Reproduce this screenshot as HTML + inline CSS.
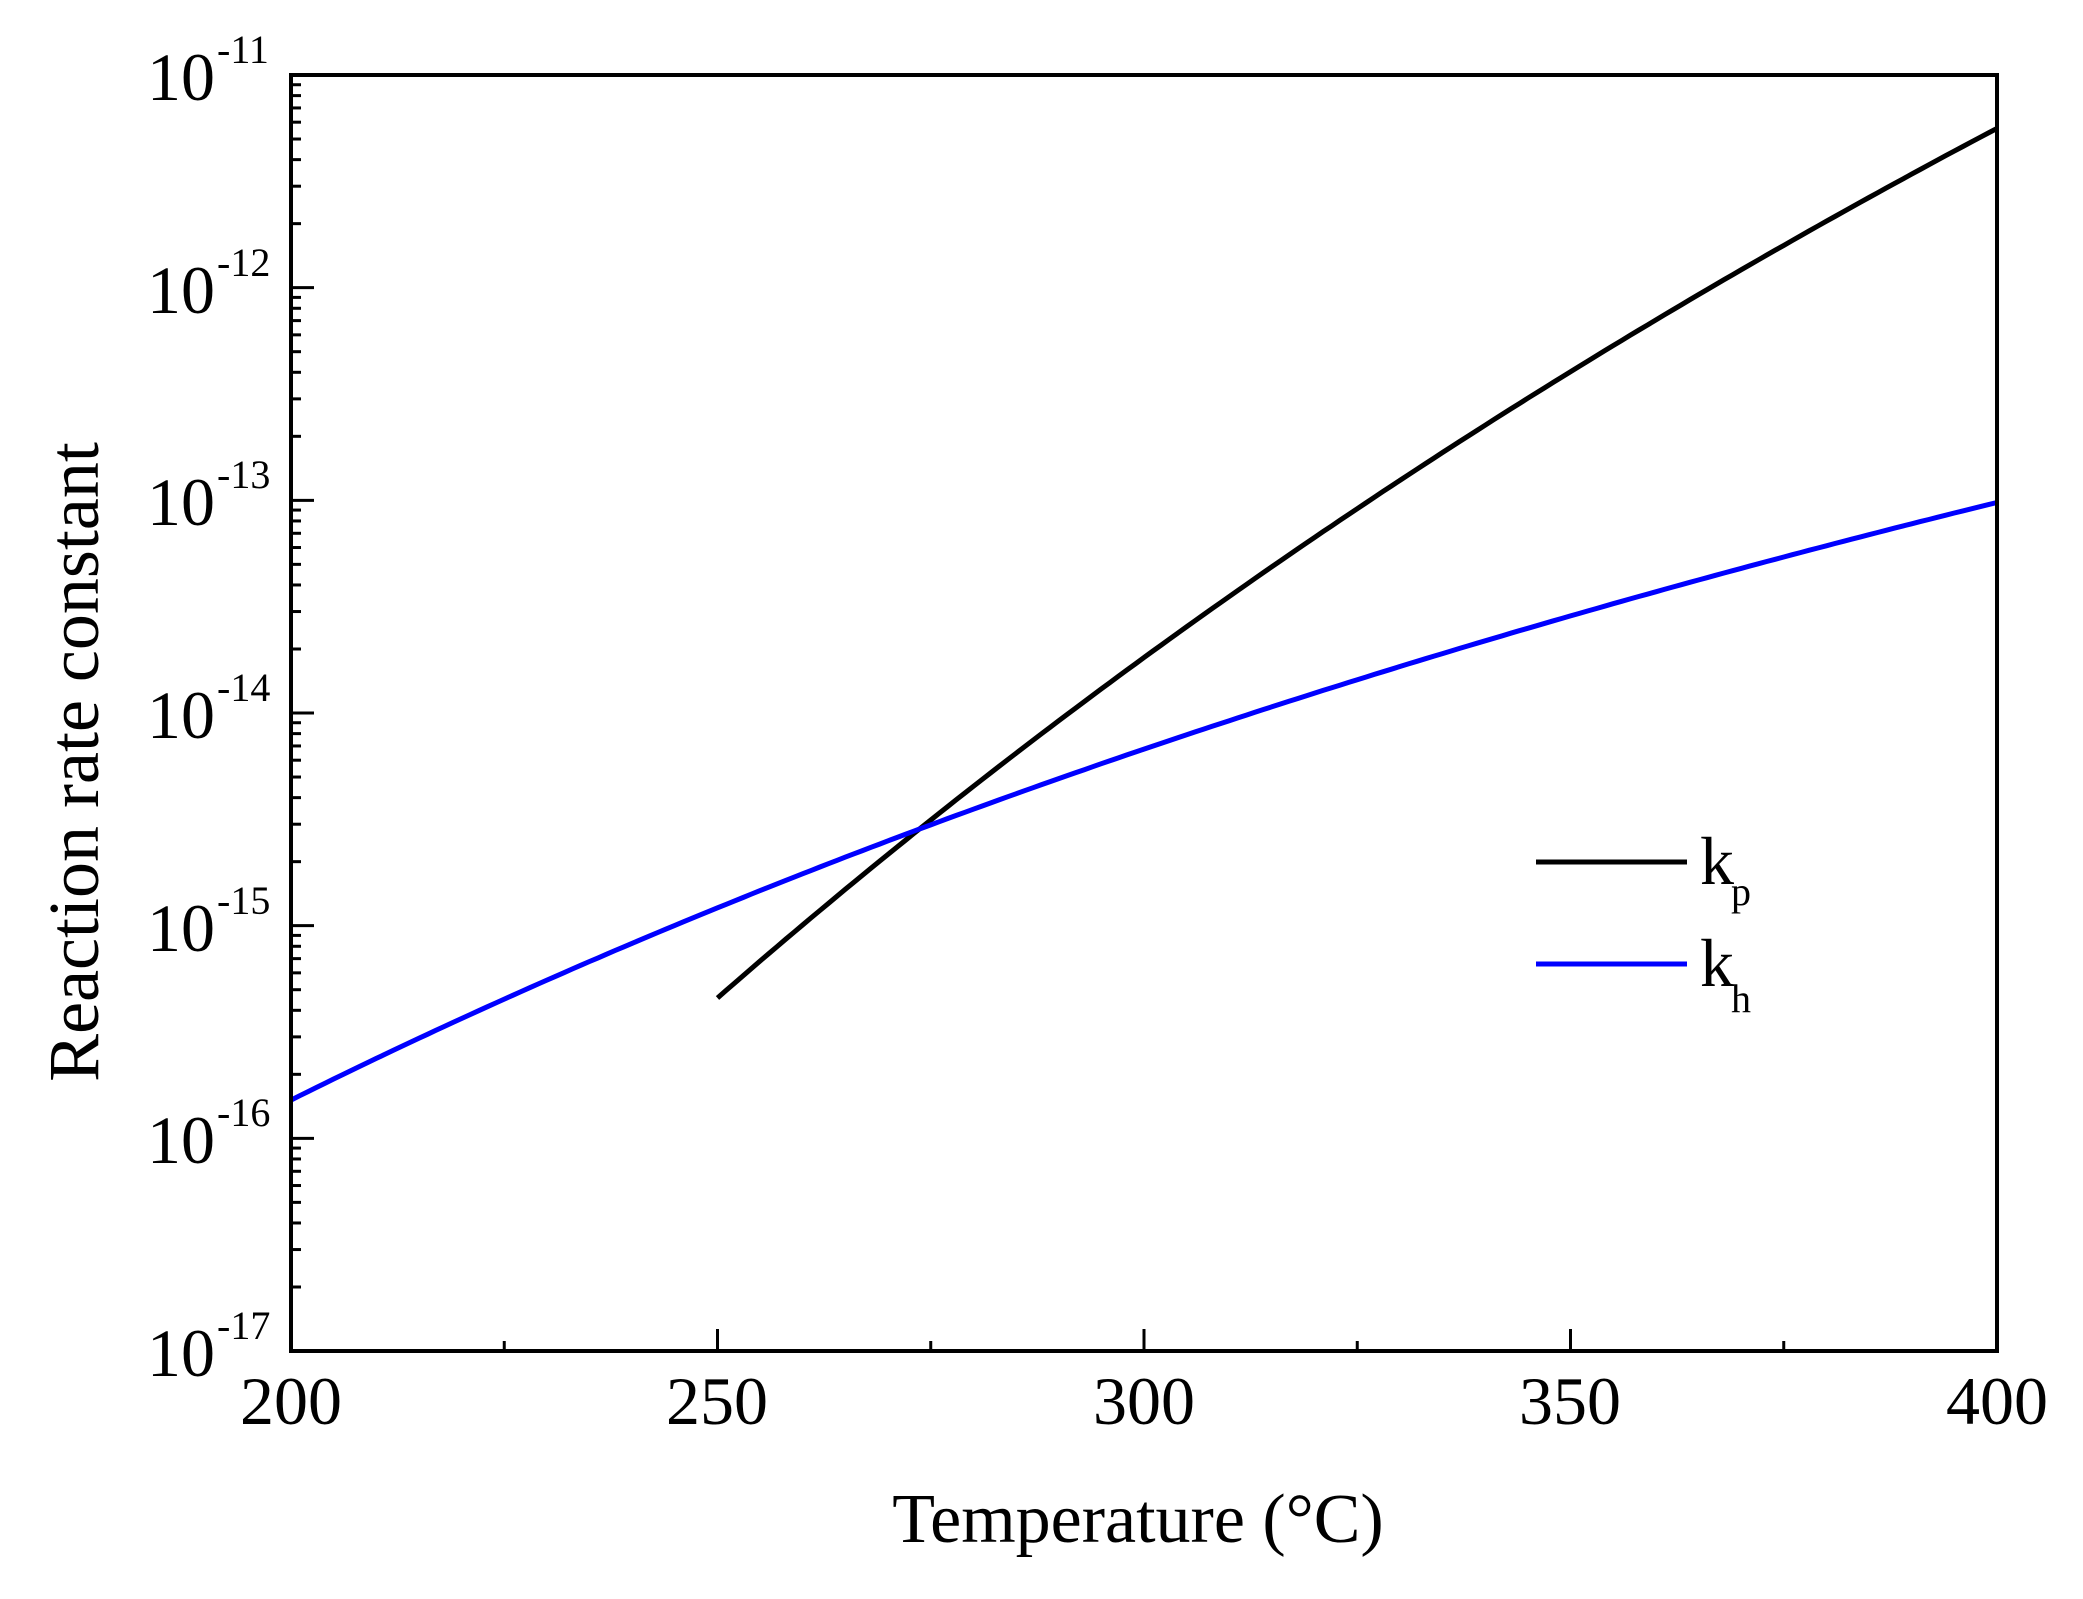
<!DOCTYPE html>
<html><head><meta charset="utf-8"><style>
html,body{margin:0;padding:0;background:#fff;}
svg text{font-family:"Liberation Serif",serif;fill:#000;}
</style></head><body>
<svg id="s" width="2083" height="1594" viewBox="0 0 2083 1594" xmlns="http://www.w3.org/2000/svg">
<rect width="2083" height="1594" fill="#fff"/>
<g id="ticks" stroke="#000" stroke-width="3"></g>
<polyline id="kp" fill="none" stroke="#000" stroke-width="5"/>
<polyline id="kh" fill="none" stroke="#0000ff" stroke-width="5"/>
<rect x="291" y="75" width="1706" height="1276" fill="none" stroke="#000" stroke-width="4"/>
<g font-size="68">
<text x="215" y="100" text-anchor="end">10</text><text x="217" y="63" font-size="40">-11</text>
<text x="215" y="313" text-anchor="end">10</text><text x="217" y="276" font-size="40">-12</text>
<text x="215" y="525" text-anchor="end">10</text><text x="217" y="488" font-size="40">-13</text>
<text x="215" y="738" text-anchor="end">10</text><text x="217" y="701" font-size="40">-14</text>
<text x="215" y="951" text-anchor="end">10</text><text x="217" y="914" font-size="40">-15</text>
<text x="215" y="1163" text-anchor="end">10</text><text x="217" y="1126" font-size="40">-16</text>
<text x="215" y="1376" text-anchor="end">10</text><text x="217" y="1339" font-size="40">-17</text>
</g>
<g font-size="68" text-anchor="middle">
<text x="291" y="1424">200</text>
<text x="717" y="1424">250</text>
<text x="1144" y="1424">300</text>
<text x="1570" y="1424">350</text>
<text x="1997" y="1424">400</text>
</g>
<text x="1138" y="1542" font-size="70" text-anchor="middle">Temperature (°C)</text>
<text transform="translate(98,762) rotate(-90)" font-size="72" text-anchor="middle">Reaction rate constant</text>
<line x1="1536" y1="862" x2="1687" y2="862" stroke="#000" stroke-width="5"/>
<line x1="1536" y1="964" x2="1687" y2="964" stroke="#0000ff" stroke-width="5"/>
<text x="1700" y="884" font-size="68">k</text><text x="1731" y="905" font-size="40">p</text>
<text x="1700" y="986" font-size="68">k</text><text x="1731" y="1012" font-size="40">h</text>
</svg>
<script>
var X=function(t){return 291+(t-200)*8.53;};
var Y=function(l){return 75+(-11-l)*212.67;};
var g=document.getElementById('ticks'),h='';
for(var d=-11;d>=-17;d--){var y0=Y(d);h+='<line x1="291" y1="'+y0+'" x2="314" y2="'+y0+'"/>';
 if(d>-17)for(var m=2;m<=9;m++){var y=Y(d-1+Math.log10(m));h+='<line x1="291" y1="'+y+'" x2="301" y2="'+y+'"/>';}}
for(var t=225;t<400;t+=25){var x=X(t);var L=(t%50==0)?22:10;h+='<line x1="'+x+'" y1="1351" x2="'+x+'" y2="'+(1351-L)+'"/>';}
g.innerHTML=h;
function pts(a,b,T0,t0,t1){var p=[];for(var t=t0;t<=t1+0.01;t+=1){var l=a+b*(1/(T0+273.15)-1/(t+273.15));p.push(X(t).toFixed(1)+','+Y(l).toFixed(1));}return p.join(' ');}
document.getElementById('kp').setAttribute('points',pts(-15.34,9600,250,250,400));
document.getElementById('kh').setAttribute('points',pts(-15.82,4475,200,200,400));
</script>
</body></html>
